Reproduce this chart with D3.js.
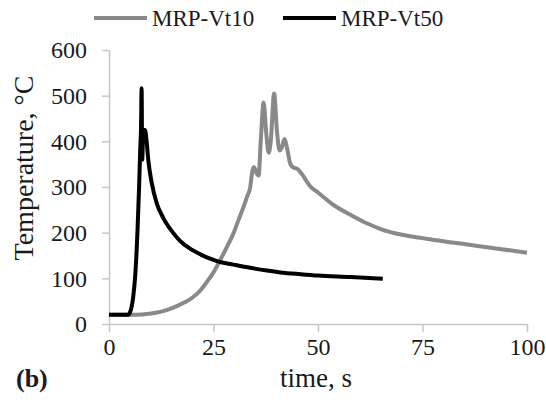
<!DOCTYPE html>
<html><head><meta charset="utf-8">
<script src="https://cdn.jsdelivr.net/npm/d3@7"></script>
<style>body{margin:0;background:#fff}svg{display:block}svg text{font-family:"Liberation Serif","Times New Roman",serif !important;fill:#1a1a1a}</style>
</head><body>
<script>
const seriesNames = ["MRP-Vt10", "MRP-Vt50"];
const vt10Time = [0,5,8,10,12.5,15.4,18,20,22,23.4,25,26.6,28,29.8,31,32.2,33,33.8,34.3,34.7,35.3,35.8,36.3,37.0,37.6,38.2,38.7,39.5,40.2,40.8,41.3,42,42.6,43.4,44.2,45,46,48.2,50,53.8,57.8,61.8,65,69.8,75,77.8,85.8,93,100];
const vt10Temp = [20,20,21,23,27,36,47,58,75,92,113,140,165,199,228,257,278,300,335,343,330,325,400,485,420,375,400,505,420,380,385,405,385,350,342,340,330,301,288,260,239,220,208,196,188,184,174,165,156];
const vt50Time = [0,4.5,5.2,5.8,6.3,6.8,7.2,7.5,7.65,7.8,7.95,8.2,8.6,9.0,9.4,10.2,11.4,13,15.4,17,19.4,22,24.2,26,29.8,33.8,37.8,41,45.8,50,57.8,65.5];
const vt50Temp = [20,20,30,60,110,200,300,390,425,516,360,425,425,400,359,310,265,232,199,182,165,152,143,137,130,123,117,113,109,106,103,99];
const xTicks = [0,25,50,75,100];
const yTicks = [0,100,200,300,400,500,600];
const colors = ["#898989", "#000000"];

const W = 546, H = 407;
const svg = d3.select("body").append("svg").attr("width", W).attr("height", H);
const x = d3.scaleLinear().domain([0,100]).range([109,527]);
const y = d3.scaleLinear().domain([0,600]).range([324,50]);
const axisCol = "#c6c6c6";

const xa = svg.append("g").attr("transform","translate(0,324)")
  .call(d3.axisBottom(x).tickValues(xTicks).tickSize(8).tickPadding(6).tickSizeOuter(0));
const ya = svg.append("g").attr("transform","translate(109,0)")
  .call(d3.axisLeft(y).tickValues(yTicks).tickSize(7).tickPadding(15).tickSizeOuter(0));
[xa, ya].forEach(g => {
  g.attr("font-family", null).attr("font-size", null);
  g.selectAll("path,line").attr("stroke", axisCol).attr("stroke-width", 1.5);
  g.selectAll("text").style("font-size", "24px").style("font-family", '"Liberation Serif",serif').style("fill","#1a1a1a");
});

const line = d3.line().x(d => x(d[0])).y(d => y(d[1])).curve(d3.curveMonotoneX);
const s10 = vt10Time.map((t,i) => [t, vt10Temp[i]]);
const s50 = vt50Time.map((t,i) => [t, vt50Temp[i]]);
svg.append("path").datum(s10).attr("d", line).attr("fill","none").attr("stroke",colors[0]).attr("stroke-width",4).attr("stroke-linejoin","round");
svg.append("path").datum(s50).attr("d", line).attr("fill","none").attr("stroke",colors[1]).attr("stroke-width",4).attr("stroke-linejoin","round");

// legend
const legX = [94, 283];
seriesNames.forEach((n,i) => {
  svg.append("line").attr("x1",legX[i]).attr("x2",legX[i]+53).attr("y1",18).attr("y2",18)
    .attr("stroke",colors[i]).attr("stroke-width",4);
  svg.append("text").attr("x",legX[i]+58).attr("y",26).style("font-size","23px").text(n);
});

svg.append("text").attr("transform","translate(33,168) rotate(-90)").attr("text-anchor","middle")
  .style("font-size","28px").text("Temperature, °C");
svg.append("text").attr("x",316).attr("y",387).attr("text-anchor","middle").style("font-size","27px").text("time, s");
svg.append("text").attr("x",16).attr("y",387).style("font-size","26px").style("font-weight","bold").text("(b)");
</script>
</body></html>
